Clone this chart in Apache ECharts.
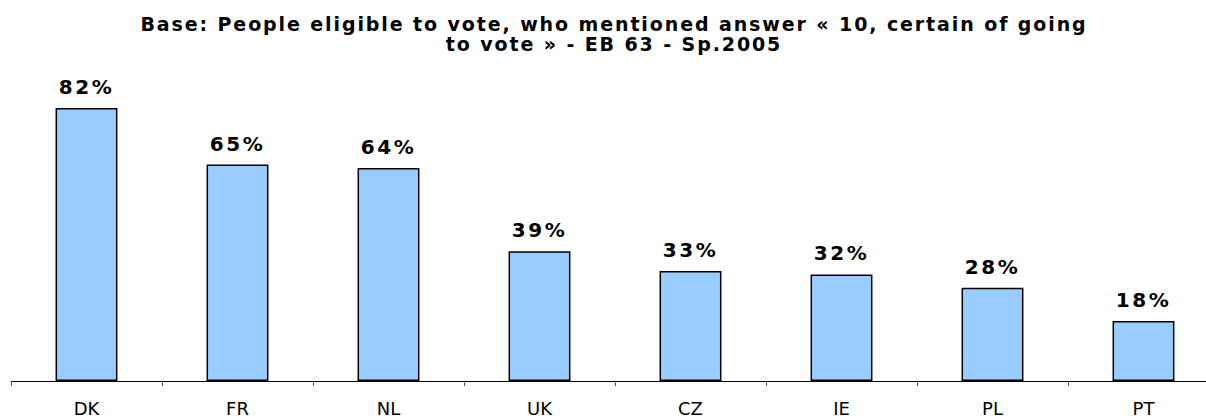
<!DOCTYPE html>
<html>
<head>
<meta charset="utf-8">
<script src="https://cdn.jsdelivr.net/npm/echarts@6/dist/echarts.min.js"></script>
<style>
  html, body { margin: 0; padding: 0; background: #fff; }
  #chart { width: 1206px; height: 419px; }
  /* the original text is spaced out a bit, svg renderer lets css do it */
  #chart text[style*="bold"][style*="19px"] { letter-spacing: 1.9px; }
  #chart text[style*="bold"][style*="20px"] { letter-spacing: 2.5px; }
  #chart text[style*="normal"][style*="18px"] { letter-spacing: 3px; }
</style>
</head>
<body>
<div id="chart"></div>
<script>
var countries = ['DK', 'FR', 'NL', 'UK', 'CZ', 'IE', 'PL', 'PT'];
var certainToVote = [82, 65, 64, 39, 33, 32, 28, 18];
var titleText = 'Base: People eligible to vote, who mentioned answer \u00ab 10, certain of going\nto vote \u00bb - EB 63 - Sp.2005';

var chart = echarts.init(document.getElementById('chart'), null, { renderer: 'svg' });
chart.setOption({
    animation: false,
    backgroundColor: '#fff',
    title: {
        text: titleText,
        left: 609,
        top: 9,
        textAlign: 'center',
        textStyle: {
            fontFamily: 'DejaVu Sans',
            fontWeight: 'bold',
            fontSize: 19,
            lineHeight: 20,
            color: '#000'
        }
    },
    grid: { left: 11, width: 1208, top: 48, bottom: 38, outerBoundsMode: 'none', containLabel: false },
    xAxis: {
        type: 'category',
        data: countries,
        axisLine: { lineStyle: { color: '#000', width: 1 } },
        axisTick: { show: true, length: 5, lineStyle: { color: '#555' } },
        axisLabel: {
            fontFamily: 'DejaVu Sans',
            fontWeight: 'normal',
            fontSize: 18,
            color: '#000',
            margin: 18
        }
    },
    yAxis: {
        type: 'value',
        min: 0,
        max: 100,
        show: false,
        splitLine: { show: false }
    },
    series: [{
        type: 'bar',
        data: certainToVote,
        barWidth: '41%',
        itemStyle: { color: '#99CCFF', borderColor: '#000', borderWidth: 1.5 },
        label: {
            show: true,
            position: 'top',
            distance: 11,
            formatter: '{c}%',
            fontFamily: 'DejaVu Sans',
            fontWeight: 'bold',
            fontSize: 20,
            color: '#000'
        }
    }]
});
</script>
</body>
</html>
